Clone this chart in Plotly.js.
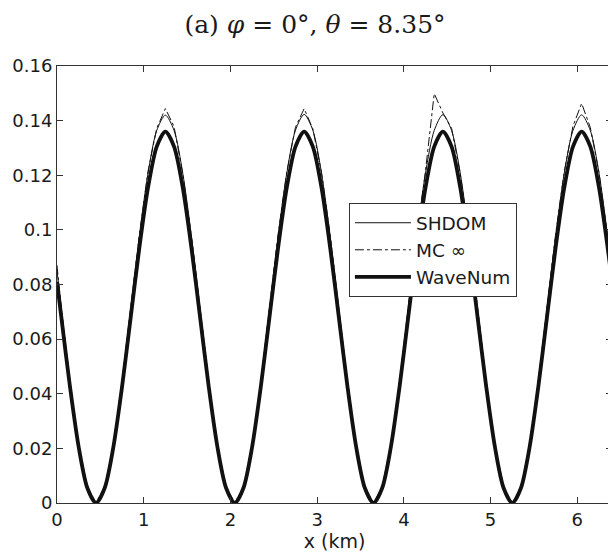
<!DOCTYPE html>
<html>
<head>
<meta charset="utf-8">
<script src="https://cdn.plot.ly/plotly-3.0.1.min.js"></script>
<style>
html, body { margin: 0; padding: 0; overflow: hidden; background: #ffffff; }
#chart { width: 613px; height: 556px; }
</style>
</head>
<body>
<div id="chart"></div>
<script>
// x positions (km)
const xKm = [0, 0.05, 0.15, 0.25, 0.35, 0.45, 0.55, 0.65, 0.75, 0.85, 0.95, 1.05, 1.15, 1.25, 1.35, 1.45, 1.55,
  1.65, 1.75, 1.85, 1.95, 2.05, 2.15, 2.25, 2.35, 2.45, 2.55, 2.65, 2.75, 2.85, 2.95, 3.05, 3.15,
  3.25, 3.35, 3.45, 3.55, 3.65, 3.75, 3.85, 3.95, 4.05, 4.15, 4.25, 4.35, 4.45, 4.55, 4.65, 4.75,
  4.85, 4.95, 5.05, 5.15, 5.25, 5.35, 5.45, 5.55, 5.65, 5.75, 5.85, 5.95, 6.05, 6.15, 6.25, 6.35, 6.4];

const shdom = [0.085, 0.0711, 0.0444, 0.0214, 0.0058, 0, 0.0058, 0.0214, 0.0444, 0.0711, 0.0978, 0.1208, 0.1364, 0.1420, 0.1364, 0.1208, 0.0978,
  0.0711, 0.0444, 0.0214, 0.0058, 0, 0.0058, 0.0214, 0.0444, 0.0711, 0.0978, 0.1208, 0.1365, 0.1423, 0.1365, 0.1208, 0.0978,
  0.0711, 0.0444, 0.0214, 0.0058, 0, 0.0058, 0.0214, 0.0444, 0.0711, 0.0978, 0.1208, 0.1364, 0.1422, 0.1364, 0.1208, 0.0978,
  0.0711, 0.0444, 0.0214, 0.0058, 0, 0.0058, 0.0214, 0.0444, 0.0711, 0.0978, 0.1208, 0.1364, 0.1421, 0.1364, 0.1208, 0.0978, 0.085];

const mcInf = [0.087, 0.0712, 0.0445, 0.0215, 0.0060, 0, 0.0060, 0.0212, 0.0448, 0.0715, 0.0982, 0.1215, 0.1372, 0.1444, 0.1378, 0.1205, 0.0975,
  0.0712, 0.0446, 0.0213, 0.0059, 0, 0.0057, 0.0216, 0.0441, 0.0714, 0.0985, 0.1212, 0.1376, 0.1444, 0.1370, 0.1210, 0.0980,
  0.0708, 0.0447, 0.0212, 0.0058, 0, 0.0060, 0.0215, 0.0445, 0.0716, 0.0980, 0.1218, 0.1499, 0.1428, 0.1372, 0.1206, 0.0979,
  0.0713, 0.0443, 0.0214, 0.0058, 0, 0.0057, 0.0216, 0.0446, 0.0712, 0.0984, 0.1214, 0.1380, 0.1463, 0.1375, 0.1210, 0.0980, 0.0855];

const waveNum = [0.081, 0.068, 0.0425, 0.0205, 0.0055, 0, 0.0055, 0.0205, 0.0425, 0.068, 0.0935, 0.1155, 0.1305, 0.136, 0.1305, 0.1155, 0.0935,
  0.068, 0.0425, 0.0205, 0.0055, 0, 0.0055, 0.0205, 0.0425, 0.068, 0.0935, 0.1155, 0.1305, 0.136, 0.1305, 0.1155, 0.0935,
  0.068, 0.0425, 0.0205, 0.0055, 0, 0.0055, 0.0205, 0.0425, 0.068, 0.0935, 0.1155, 0.1305, 0.136, 0.1305, 0.1155, 0.0935,
  0.068, 0.0425, 0.0205, 0.0055, 0, 0.0055, 0.0205, 0.0425, 0.068, 0.0935, 0.1155, 0.1305, 0.136, 0.1305, 0.1155, 0.0935, 0.081];

const seriesNames = ['SHDOM', 'MC ∞', 'WaveNum'];
const xTicks = [0, 1, 2, 3, 4, 5, 6];
const yTicks = [0, 0.02, 0.04, 0.06, 0.08, 0.1, 0.12, 0.14, 0.16];
const yTickText = ['0', '0.02', '0.04', '0.06', '0.08', '0.1', '0.12', '0.14', '0.16'];

const traces = [
  { x: xKm, y: shdom, name: seriesNames[0], mode: 'lines', line: { color: '#111', width: 1, shape: 'spline', smoothing: 0.8 } },
  { x: xKm, y: mcInf, name: seriesNames[1], mode: 'lines', line: { color: '#111', width: 1, dash: 'dashdot' } },
  { x: xKm, y: waveNum, name: seriesNames[2], mode: 'lines', line: { color: '#111', width: 3.8, shape: 'spline', smoothing: 0.8 } }
];

const sans = 'DejaVu Sans, Liberation Sans, Arial, sans-serif';
const axisCommon = {
  showgrid: false, zeroline: false, showline: true, linecolor: '#333', linewidth: 1,
  ticks: 'inside', ticklen: 6, tickcolor: '#333', mirror: 'ticks',
  tickfont: { family: sans, size: 18, color: '#1a1a1a' }
};

const layout = {
  width: 613, height: 556,
  margin: { l: 57, r: 1, t: 66, b: 53, pad: 0 },
  paper_bgcolor: '#ffffff', plot_bgcolor: '#ffffff',
  showlegend: true,
  title: {
    text: '(a) <i>φ</i> = 0°, <i>θ</i> = 8.35°',
    font: { family: 'DejaVu Serif, Liberation Serif, serif', size: 25, color: '#1a1a1a' },
    xref: 'container', yref: 'container', x: 315 / 613, xanchor: 'center', y: 1 - 24 / 556, yanchor: 'middle'
  },
  xaxis: Object.assign({}, axisCommon, {
    range: [0, 6.4], tickvals: xTicks,
    title: { text: 'x (km)', font: { family: sans, size: 19, color: '#1a1a1a' }, standoff: 0 }
  }),
  yaxis: Object.assign({}, axisCommon, {
    range: [0, 0.16], tickvals: yTicks, ticktext: yTickText
  }),
  legend: {
    x: 0.526, y: 0.686, xanchor: 'left', yanchor: 'top',
    bgcolor: '#ffffff', bordercolor: '#333', borderwidth: 1,
    font: { family: sans, size: 18.5, color: '#1a1a1a' },
    itemwidth: 56, traceorder: 'normal'
  }
};

Plotly.newPlot('chart', traces, layout, { staticPlot: true, displayModeBar: false });
</script>
</body>
</html>
